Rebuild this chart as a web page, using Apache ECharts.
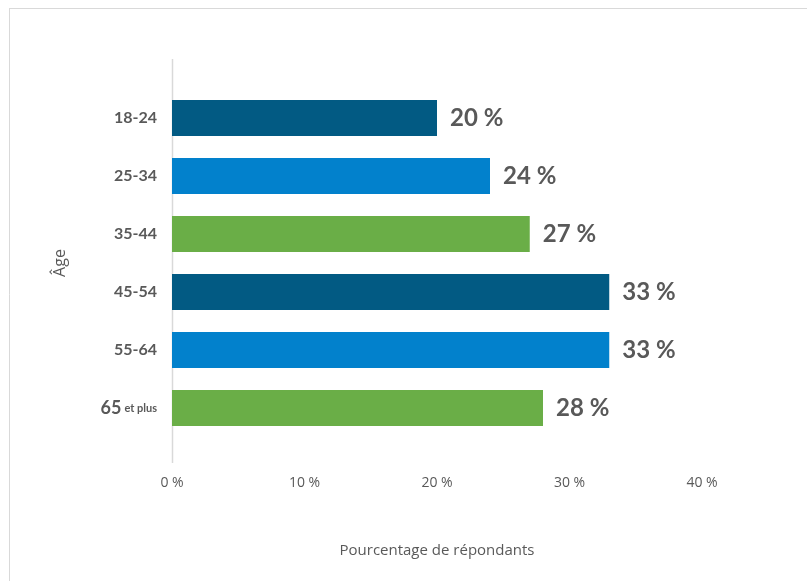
<!DOCTYPE html>
<html>
<head>
<meta charset="utf-8">
<script src="https://cdn.jsdelivr.net/npm/echarts@6/dist/echarts.min.js"></script>
<style>
  html, body { margin: 0; padding: 0; background: #ffffff; }
  #chart { width: 807px; height: 581px; }
</style>
</head>
<body>
<div id="chart"></div>
<script>
// Age groups (top to bottom) and share of respondents in each, in %
const ageGroups = ['18-24', '25-34', '35-44', '45-54', '55-64', '65 et plus'];
const respondentShare = [20, 24, 27, 33, 33, 28];
const barColors = ['#025a83', '#0281cc', '#6aae47', '#025a83', '#0281cc', '#6aae47'];
const xTicks = [0, 10, 20, 30, 40];

const textGrey = '#595959';
const chart = echarts.init(document.getElementById('chart'), null, { renderer: 'canvas' });

const gridLeft = 172, gridTop = 89, gridWidth = 530, gridHeight = 348;

chart.setOption({
  animation: false,
  backgroundColor: '#ffffff',
  grid: { left: gridLeft, top: gridTop, width: gridWidth, height: gridHeight, containLabel: false },
  xAxis: {
    type: 'value',
    min: xTicks[0],
    max: xTicks[xTicks.length - 1],
    interval: 10,
    axisLine: { show: false },
    axisTick: { show: false },
    splitLine: { show: false },
    axisLabel: {
      margin: 39,
      color: textGrey,
      fontFamily: 'Open Sans',
      fontSize: 14,
      formatter: v => v + ' %'
    },
    name: 'Pourcentage de répondants',
    nameLocation: 'middle',
    nameGap: 106,
    nameTextStyle: { color: textGrey, fontFamily: 'Open Sans', fontSize: 15 }
  },
  yAxis: {
    type: 'category',
    inverse: true,
    data: ageGroups,
    axisLine: { show: false },
    axisTick: { show: false },
    axisLabel: {
      margin: 15,
      color: textGrey,
      fontFamily: 'Lato',
      fontWeight: 'bold',
      fontSize: 16,
      formatter: v => {
        // "65 et plus": large number followed by a smaller suffix
        const m = v.match(/^(\d+) (.+)$/);
        return m ? '{big|' + m[1] + '}{small|' + m[2] + '}' : v;
      },
      rich: {
        big: { fontFamily: 'Lato', fontWeight: 'bold', fontSize: 18, color: textGrey, padding: [0, 3, 0, 0] },
        small: { fontFamily: 'Lato', fontWeight: 'bold', fontSize: 11, color: textGrey }
      }
    },
    name: 'Âge',
    nameLocation: 'middle',
    nameRotate: 90,
    nameGap: 104,
    nameTextStyle: { color: textGrey, fontFamily: 'Open Sans', fontSize: 16 }
  },
  series: [{
    type: 'bar',
    barWidth: 36,
    data: respondentShare.map((v, i) => ({ value: v, itemStyle: { color: barColors[i] } })),
    label: {
      show: true,
      position: 'right',
      distance: 13,
      color: textGrey,
      fontFamily: 'Lato',
      fontWeight: 'bold',
      fontSize: 24,
      formatter: p => p.value + ' %'
    }
  }],
  graphic: [
    // frame around the chart area
    { type: 'line', shape: { x1: 9, y1: 8.5, x2: 807, y2: 8.5 }, style: { stroke: '#d9d9d9', lineWidth: 1 } },
    { type: 'line', shape: { x1: 9.5, y1: 8, x2: 9.5, y2: 581 }, style: { stroke: '#d9d9d9', lineWidth: 1 } },
    // vertical category axis line
    { type: 'line', shape: { x1: gridLeft + 0.5, y1: 59, x2: gridLeft + 0.5, y2: 463 }, style: { stroke: '#d9d9d9', lineWidth: 1.5 } }
  ]
});
</script>
</body>
</html>
